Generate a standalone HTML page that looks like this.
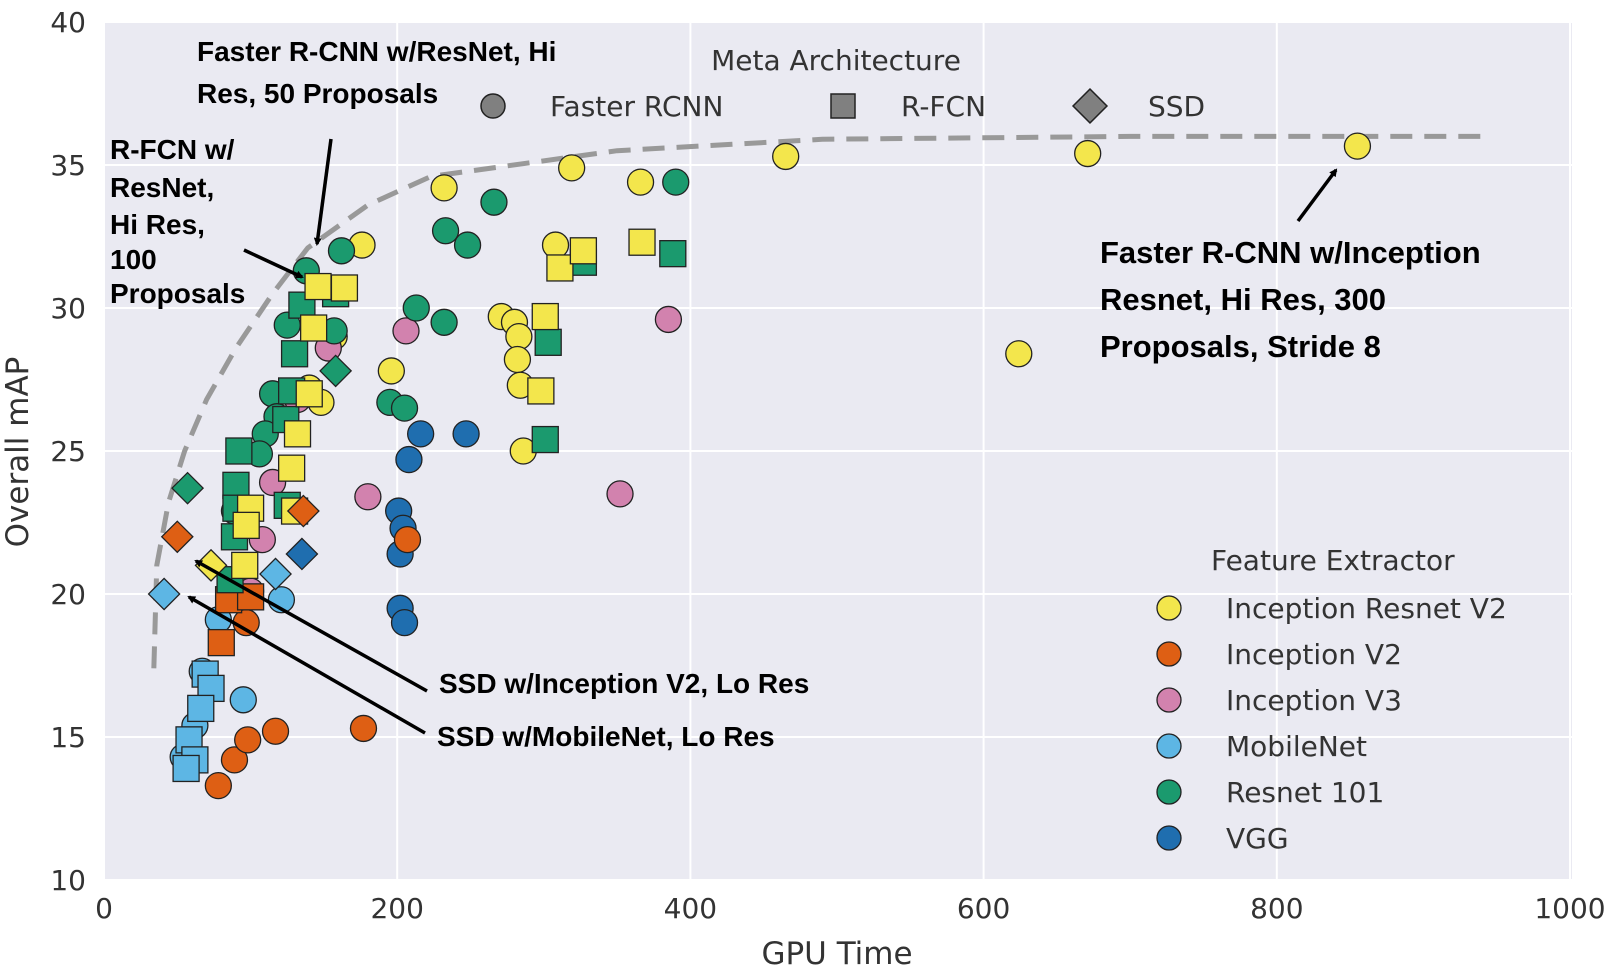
<!DOCTYPE html>
<html><head><meta charset="utf-8"><style>
html,body{margin:0;padding:0;background:#fff}
svg{display:block;font-family:"DejaVu Sans","Liberation Sans",sans-serif}
.ann{font-family:"Liberation Sans",sans-serif;font-weight:bold;fill:#000}
</style></head><body>
<svg id="chart" width="1612" height="970" viewBox="0 0 1612 970" xmlns="http://www.w3.org/2000/svg">
<defs><marker id="ah" markerWidth="8" markerHeight="8" refX="6" refY="4" orient="auto" markerUnits="userSpaceOnUse"><path d="M0,0 L8,4 L0,8 z" fill="#000"/></marker></defs>
<rect x="104" y="22" width="1468" height="858" fill="#eaeaf2"/>
<g id="grid"></g>
<g id="ticks"></g>
<path id="frontier" fill="none" stroke="#999" stroke-width="5" stroke-dasharray="22,12"/>
<g id="marks"></g>
<text x="837" y="964" text-anchor="middle" font-size="31" fill="#333">GPU Time</text>
<text transform="translate(28,452) rotate(-90)" text-anchor="middle" font-size="31" fill="#333">Overall mAP</text>
<g font-size="28" fill="#333">
<text x="836" y="70" text-anchor="middle">Meta Architecture</text>
<circle cx="493" cy="106" r="12" fill="#808080" stroke="#222" stroke-width="1.5"/><text x="550" y="116">Faster RCNN</text>
<rect x="831" y="94" width="24" height="24" fill="#808080" stroke="#222" stroke-width="1.5"/><text x="901" y="116">R-FCN</text>
<rect x="1078" y="94" width="24" height="24" fill="#808080" stroke="#222" stroke-width="1.5" transform="rotate(45 1090 106)"/><text x="1148" y="116">SSD</text>
</g>
<g id="fe-legend" font-size="28" fill="#333">
<text x="1211" y="570">Feature Extractor</text>
</g>
<g>
<text class="ann" x="197" y="61" font-size="28">Faster R-CNN w/ResNet, Hi</text>
<text class="ann" x="197" y="103" font-size="28">Res, 50 Proposals</text>
<text class="ann" x="110" y="159" font-size="28">R-FCN w/</text>
<text class="ann" x="110" y="197" font-size="28">ResNet,</text>
<text class="ann" x="110" y="234" font-size="28">Hi Res,</text>
<text class="ann" x="110" y="269" font-size="28">100</text>
<text class="ann" x="110" y="303" font-size="28">Proposals</text>
<text class="ann" x="1100" y="263" font-size="31">Faster R-CNN w/Inception</text>
<text class="ann" x="1100" y="310" font-size="31">Resnet, Hi Res, 300</text>
<text class="ann" x="1100" y="357" font-size="31">Proposals, Stride 8</text>
<text class="ann" x="439" y="693" font-size="28">SSD w/Inception V2, Lo Res</text>
<text class="ann" x="437" y="746" font-size="28">SSD w/MobileNet, Lo Res</text>
<g stroke="#000" stroke-width="3.5" fill="none">
<line x1="331" y1="139" x2="317" y2="244" marker-end="url(#ah)"/>
<line x1="244" y1="250" x2="302" y2="277" marker-end="url(#ah)"/>
<line x1="1298" y1="221" x2="1336" y2="170" marker-end="url(#ah)"/>
<line x1="427" y1="691" x2="196" y2="561" marker-end="url(#ah)"/>
<line x1="425" y1="733" x2="189" y2="597" marker-end="url(#ah)"/>
</g></g>
</svg>
<script>
const xTicks=[0,200,400,600,800,1000];
const yTicks=[10,15,20,25,30,35,40];
const extractors=["Inception Resnet V2","Inception V2","Inception V3","MobileNet","Resnet 101","VGG"];
const colors={"Inception Resnet V2":"#f3e64c","Inception V2":"#de5f14","Inception V3":"#d282ae","MobileNet":"#5db6e4","Resnet 101":"#1b9a6e","VGG":"#1f6eaf"};
const frontierX=[34,36,44,55,70,90,115,139,180,223,350,490,700,942];
const frontierY=[17.4,21,23.2,25,26.8,28.6,30.5,32.1,33.6,34.6,35.5,35.9,36.0,36.0];
// [x(GPU time), y(mAP)] per extractor/meta-arch
const irv2Circle=[[855,35.66],[671,35.4],[465,35.3],[319,34.9],[366,34.4],[232,34.2],[176,32.2],[308,32.2],[157,29.0],[271,29.7],[280,29.5],[283,29.0],[282,28.2],[284,27.3],[196,27.8],[624,28.4],[286,25.0],[148,26.7],[140,27.2]];
const irv2Square=[[146,30.75],[164,30.7],[143,29.3],[140,27.0],[132,25.6],[128,24.4],[100,23.0],[97,22.4],[96,21.0],[130,22.9],[301,29.7],[298,27.1],[311,31.4],[327,32.0],[367,32.3]];
const irv2Diamond=[[73,21.0]];
const iv2Circle=[[97,19.0],[78,13.3],[89,14.2],[98,14.9],[117,15.2],[177,15.3],[207,21.9]];
const iv2Square=[[85,19.8],[100,19.9],[80,18.3]];
const iv2Diamond=[[50,22.0],[136,22.9]];
const iv3Circle=[[206,29.2],[385,29.6],[352,23.5],[180,23.4],[115,23.9],[108,21.9],[100,20.1],[153,28.6],[132,26.8]];
const mnCircle=[[121,19.8],[78,19.1],[67,17.3],[95,16.3],[54,14.3],[62,15.4]];
const mnSquare=[[69,17.2],[73,16.7],[66,16.0],[58,14.9],[62,14.2],[56,13.9]];
const mnDiamond=[[41,20.0],[117,20.7]];
const rnCircle=[[390,34.4],[266,33.7],[233,32.7],[248,32.2],[162,32.0],[138,31.3],[213,30.0],[232,29.5],[195,26.7],[205,26.5],[157,29.2],[125,29.4],[115,27.0],[118,26.2],[110,25.6],[106,24.9],[89,22.9]];
const rnSquare=[[135,30.1],[158,30.5],[130,28.4],[128,27.1],[124,26.1],[92,25.0],[90,23.8],[90,23.0],[89,22.0],[86,20.5],[125,23.1],[303,28.8],[301,25.4],[388,31.9],[327,31.6]];
const rnDiamond=[[57,23.7],[158,27.8]];
const vggCircle=[[247,25.6],[216,25.6],[208,24.7],[201,22.9],[204,22.3],[202,21.4],[202,19.5],[205,19.0]];
const vggDiamond=[[135,21.4]];

const NS="http://www.w3.org/2000/svg";
const X0=104,X1=1570,Y0=880,Y1=22;
function xs(v){return X0+(v-0)/(1000-0)*(X1-X0);}
function ys(v){return Y0-(v-10)/(40-10)*(Y0-Y1);}
function el(t,a,p){const e=document.createElementNS(NS,t);for(const k in a)e.setAttribute(k,a[k]);p.appendChild(e);return e;}
const grid=document.getElementById('grid'),ticks=document.getElementById('ticks');
xTicks.forEach(t=>{
 const l=el('line',{x1:xs(t),x2:xs(t),y1:Y1,y2:Y0,stroke:'#fff','stroke-width':2},grid);
 
 
 const tx=el('text',{x:xs(t),y:Y0+38,'text-anchor':'middle','font-size':28,fill:'#333'},ticks);tx.textContent=t;
 
 
});
yTicks.forEach(t=>{
 const l=el('line',{x1:X0,x2:1572,y1:ys(t),y2:ys(t),stroke:'#fff','stroke-width':2},grid);
 
 
 const tx=el('text',{x:X0-18,y:ys(t)+10,'text-anchor':'end','font-size':28,fill:'#333'},ticks);tx.textContent=t;
 
 
});
document.getElementById('frontier').setAttribute('d',frontierX.map((x,i)=>(i?'L':'M')+xs(x)+','+ys(frontierY[i])).join(' '));
const marks=document.getElementById('marks');
function draw(arr,shape,fe){
 arr.forEach(p=>{
  const cx=xs(p[0]),cy=ys(p[1]);let e;
  const st={fill:colors[fe],stroke:'#222','stroke-width':1.3};
  if(shape==='circle'){e=el('circle',Object.assign({cx:cx,cy:cy,r:13},st),marks);}
  else if(shape==='square'){e=el('rect',Object.assign({x:cx-13,y:cy-13,width:26,height:26},st),marks);}
  else {e=el('rect',Object.assign({x:cx-11,y:cy-11,width:22,height:22,transform:'rotate(45 '+cx+' '+cy+')'},st),marks);}
  
  
 });
}
draw(irv2Circle,'circle',"Inception Resnet V2");
draw(iv3Circle,'circle',"Inception V3");
draw(vggCircle,'circle',"VGG");
draw(iv2Circle,'circle',"Inception V2");
draw(mnCircle,'circle',"MobileNet");
draw(rnCircle,'circle',"Resnet 101");
draw(iv2Square,'square',"Inception V2");
draw(mnSquare,'square',"MobileNet");
draw(rnSquare,'square',"Resnet 101");
draw(irv2Square,'square',"Inception Resnet V2");
draw(irv2Diamond,'diamond',"Inception Resnet V2");
draw(iv2Diamond,'diamond',"Inception V2");
draw(mnDiamond,'diamond',"MobileNet");
draw(rnDiamond,'diamond',"Resnet 101");
draw(vggDiamond,'diamond',"VGG");
const leg=document.getElementById('fe-legend');
extractors.forEach((n,i)=>{
 const y=608+i*46;
 const c=el('circle',{cx:1169,cy:y,r:12,fill:colors[n],stroke:'#222','stroke-width':1.3},leg);
 
 
 const t=el('text',{x:1226,y:y+10},leg);t.textContent=n;
 
 
});
</script>
</body></html>
